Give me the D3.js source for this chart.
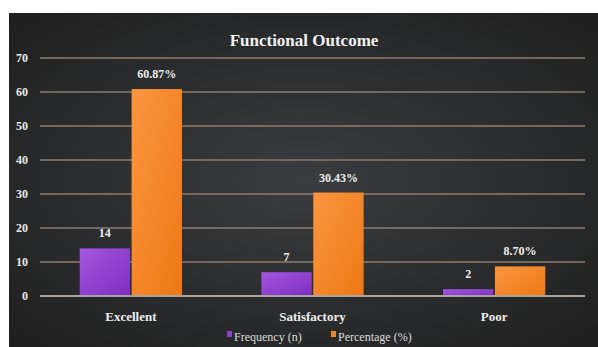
<!DOCTYPE html>
<html>
<meta charset="utf-8">
<head>
<style>
  body { margin: 0; background: #fff; }
  svg { display: block; }
</style>
<script src="https://d3js.org/d3.v7.min.js"></script>
</head>
<body>
<svg></svg>
<script>
var categories = ["Excellent", "Satisfactory", "Poor"];
var seriesNames = ["Frequency (n)", "Percentage (%)"];
var frequency = [14, 7, 2];
var percentage = [60.87, 30.43, 8.70];
var freqLabels = ["14", "7", "2"];
var pctLabels = ["60.87%", "30.43%", "8.70%"];
var yTicks = [0, 10, 20, 30, 40, 50, 60, 70];

var width = 598, height = 347;
var svg = d3.select("svg").attr("width", width).attr("height", height);
var defs = svg.append("defs");

var bg = defs.append("radialGradient").attr("id", "bg")
    .attr("cx", "50%").attr("cy", "50%").attr("r", "70%");
bg.append("stop").attr("offset", "0%").attr("stop-color", "#3a3c3f");
bg.append("stop").attr("offset", "100%").attr("stop-color", "#1f1f1f");

var gp = defs.append("linearGradient").attr("id", "gPurple")
    .attr("x1", 0).attr("y1", 0).attr("x2", 1).attr("y2", 1);
gp.append("stop").attr("offset", "0%").attr("stop-color", "#a457e0");
gp.append("stop").attr("offset", "100%").attr("stop-color", "#7d2ebf");

var go = defs.append("linearGradient").attr("id", "gOrange")
    .attr("x1", 0).attr("y1", 0).attr("x2", 1).attr("y2", 1);
go.append("stop").attr("offset", "0%").attr("stop-color", "#fa9640");
go.append("stop").attr("offset", "100%").attr("stop-color", "#ef7814");

var fills = ["url(#gPurple)", "url(#gOrange)"];
var solid = ["#9040d0", "#f58220"];

svg.append("rect").attr("x", 9).attr("y", 13)
    .attr("width", width - 9).attr("height", height - 13)
    .attr("fill", "url(#bg)");

var margin = {left: 40, right: 13, top: 58, bottom: 51};
var x0 = d3.scaleBand().domain(categories)
    .range([margin.left, width - margin.right]).paddingInner(0.42).paddingOuter(0.21);
var x1 = d3.scaleBand().domain(seriesNames).range([0, x0.bandwidth()]).padding(0.03);
var y = d3.scaleLinear().domain([0, 70]).range([height - margin.bottom, margin.top]);

var font = "'Liberation Serif', 'DejaVu Serif', serif";

// gridlines
svg.append("g").selectAll("line").data(yTicks.filter(d => d > 0)).join("line")
    .attr("x1", margin.left).attr("x2", width - margin.right)
    .attr("y1", d => y(d)).attr("y2", d => y(d))
    .attr("stroke", "#8c7c70").attr("stroke-width", 1.5);

var yAxis = svg.append("g").attr("transform", "translate(" + margin.left + ",0)")
    .call(d3.axisLeft(y).tickValues(yTicks).tickSize(0).tickPadding(12));
yAxis.select(".domain").remove();
yAxis.attr("font-family", null);
yAxis.selectAll("text").attr("fill", "#e8e8e8").style("font-family", font)
    .attr("font-weight", "bold").attr("font-size", 12);

var rows = categories.map((c, i) => ({cat: c, vals: [frequency[i], percentage[i]], labs: [freqLabels[i], pctLabels[i]]}));

var groups = svg.append("g").selectAll("g").data(rows).join("g")
    .attr("transform", d => "translate(" + x0(d.cat) + ",0)");

groups.selectAll("rect").data(d => d.vals.map((v, j) => ({s: seriesNames[j], v: v, j: j}))).join("rect")
    .attr("x", d => x1(d.s)).attr("width", x1.bandwidth())
    .attr("y", d => y(d.v)).attr("height", d => y(0) - y(d.v))
    .attr("fill", d => fills[d.j]);

groups.selectAll("text").data(d => d.labs.map((l, j) => ({s: seriesNames[j], v: d.vals[j], l: l}))).join("text")
    .attr("x", d => x1(d.s) + x1.bandwidth() / 2)
    .attr("y", d => y(d.v) - 11)
    .attr("text-anchor", "middle")
    .attr("fill", "#eeeeee").style("font-family", font).attr("font-weight", "bold")
    .attr("font-size", 12).text(d => d.l);

// baseline
svg.append("line").attr("x1", margin.left).attr("x2", width - margin.right)
    .attr("y1", y(0)).attr("y2", y(0)).attr("stroke", "#a8a29c").attr("stroke-width", 2);

// category labels
var xAxis = svg.append("g").attr("transform", "translate(0," + y(0) + ")")
    .call(d3.axisBottom(x0).tickSize(0).tickPadding(16));
xAxis.select(".domain").remove();
xAxis.attr("font-family", null);
xAxis.selectAll("text").attr("fill", "#eeeeee").style("font-family", font)
    .attr("font-weight", "bold").attr("font-size", 13);

// title
svg.append("text").attr("x", 304).attr("y", 46).attr("text-anchor", "middle")
    .attr("fill", "#f0f0f0").style("font-family", font).attr("font-weight", "bold")
    .attr("font-size", 17).text("Functional Outcome");

// legend
var legend = svg.append("g").attr("transform", "translate(0,337)");
var legX = [227, 331];
seriesNames.forEach((s, j) => {
  legend.append("rect").attr("x", legX[j]).attr("y", -6).attr("width", 5).attr("height", 6)
      .attr("fill", solid[j]);
  legend.append("text").attr("x", legX[j] + 7).attr("y", 4)
      .attr("fill", "#dddddd").style("font-family", font).attr("font-size", 12).text(s);
});
</script>
</body>
</html>
